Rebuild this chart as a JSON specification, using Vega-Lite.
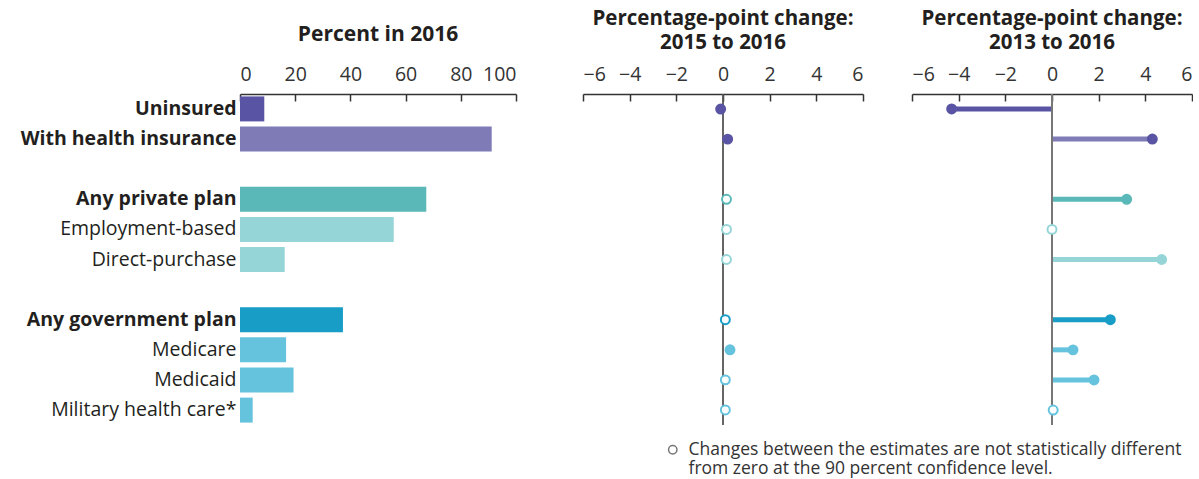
{
  "$schema": "https://vega.github.io/schema/vega-lite/v6.json",
  "padding": {"left": 5, "top": 8, "right": 0, "bottom": 0},
  "bounds": "flush",
  "spacing": 67,
  "config": {
    "font": "Open Sans",
    "view": {"stroke": null},
    "style": {"guide-label": {"lineHeight": 19}},
    "title": {"fontSize": 20.5, "fontWeight": "bold", "color": "#231f20", "anchor": "middle", "lineHeight": 24},
    "axisX": {"orient": "top", "title": null, "grid": false, "domainColor": "#333333", "domainWidth": 1.5, "tickColor": "#333333", "tickWidth": 1.5, "tickSize": -7, "labelPadding": 17, "labelFontSize": 19.5, "labelColor": "#333333"}
  },
  "datasets": {
    "cov": [
      {"cat": "Uninsured", "pct": 8.8, "c1": -0.1, "s1": true, "c3": -4.3, "s3": true},
      {"cat": "With health insurance", "pct": 91.2, "c1": 0.2, "s1": true, "c3": 4.3, "s3": true},
      {"cat": "Any private plan", "pct": 67.5, "c1": 0.15, "s1": false, "c3": 3.2, "s3": true},
      {"cat": "Employment-based", "pct": 55.7, "c1": 0.15, "s1": false, "c3": 0, "s3": false},
      {"cat": "Direct-purchase", "pct": 16.2, "c1": 0.15, "s1": false, "c3": 4.7, "s3": true},
      {"cat": "Any government plan", "pct": 37.3, "c1": 0.1, "s1": false, "c3": 2.5, "s3": true},
      {"cat": "Medicare", "pct": 16.7, "c1": 0.3, "s1": true, "c3": 0.9, "s3": true},
      {"cat": "Medicaid", "pct": 19.4, "c1": 0.1, "s1": false, "c3": 1.8, "s3": true},
      {"cat": "Military health care*", "pct": 4.6, "c1": 0.1, "s1": false, "c3": 0.05, "s3": false}
    ],
    "zero": [{"z": 0}],
    "note": [{"note": "Changes between the estimates are not statistically different|from zero at the 90 percent confidence level."}]
  },
  "hconcat": [
    {
      "width": 276,
      "height": 331,
      "title": {"text": "Percent in 2016", "offset": 19, "fontSize": 21},
      "data": {"name": "cov"},
      "mark": {"type": "bar"},
      "encoding": {
        "y": {
          "field": "cat", "type": "nominal", "sort": null,
          "scale": {"domain": ["Uninsured", "With health insurance", "gap1", "Any private plan", "Employment-based", "Direct-purchase", "gap2", "Any government plan", "Medicare", "Medicaid", "Military health care*"], "paddingInner": 0.17, "paddingOuter": 0.08},
          "axis": {
            "title": null, "domain": false, "ticks": false, "labelPadding": 4, "labelFontSize": 19.5, "labelColor": "#231f20", "labelLimit": 400,
            "minExtent": 235, "maxExtent": 235,
            "labelExpr": "indexof(datum.value, 'gap') == 0 ? '' : datum.value",
            "labelFontWeight": {"condition": {"test": "indexof(['Uninsured', 'With health insurance', 'Any private plan', 'Any government plan'], datum.value) >= 0", "value": "bold"}, "value": "normal"}
          }
        },
        "x": {"field": "pct", "type": "quantitative", "scale": {"domain": [0, 100]}, "axis": {"values": [0, 20, 40, 60, 80, 100]}},
        "color": {
          "field": "cat", "type": "nominal", "legend": null,
          "scale": {"domain": ["Uninsured", "With health insurance", "Any private plan", "Employment-based", "Direct-purchase", "Any government plan", "Medicare", "Medicaid", "Military health care*"], "range": ["#5a54a4", "#7f7bb7", "#5ab9b8", "#96d5d7", "#96d5d7", "#189dc6", "#66c3de", "#66c3de", "#66c3de"]}
        }
      }
    },
    {
      "hconcat": [
        {
          "width": 280,
          "height": 331,
          "title": {"text": ["Percentage-point change:", "2015 to 2016"], "offset": 11},
          "layer": [
            {
              "data": {"name": "zero"},
              "mark": {"type": "rule", "color": "#555555", "strokeWidth": 1.8},
              "encoding": {"x": {"field": "z", "type": "quantitative", "scale": {"domain": [-6, 6]}, "axis": {"values": [-6, -4, -2, 0, 2, 4, 6]}}}
            },
            {
              "data": {"name": "cov"},
              "mark": {"type": "circle", "size": 80, "strokeWidth": 2, "opacity": 1},
              "encoding": {
                "x": {"field": "c1", "type": "quantitative"},
                "y": {"field": "cat", "type": "nominal", "sort": null, "axis": null,
                  "scale": {"domain": ["Uninsured", "With health insurance", "gap1", "Any private plan", "Employment-based", "Direct-purchase", "gap2", "Any government plan", "Medicare", "Medicaid", "Military health care*"], "paddingInner": 0.17, "paddingOuter": 0.08}},
                "stroke": {"field": "cat", "type": "nominal", "legend": null,
                  "scale": {"domain": ["Uninsured", "With health insurance", "Any private plan", "Employment-based", "Direct-purchase", "Any government plan", "Medicare", "Medicaid", "Military health care*"], "range": ["#5a54a4", "#5a54a4", "#5ab9b8", "#96d5d7", "#96d5d7", "#189dc6", "#66c3de", "#66c3de", "#66c3de"]}},
                "fill": {
                  "condition": {"test": "datum.s1", "field": "cat", "type": "nominal", "legend": null,
                    "scale": {"domain": ["Uninsured", "With health insurance", "Any private plan", "Employment-based", "Direct-purchase", "Any government plan", "Medicare", "Medicaid", "Military health care*"], "range": ["#5a54a4", "#5a54a4", "#5ab9b8", "#96d5d7", "#96d5d7", "#189dc6", "#66c3de", "#66c3de", "#66c3de"]}},
                  "value": "white"
                }
              }
            }
          ]
        },
        {
          "width": 280,
          "height": 331,
          "title": {"text": ["Percentage-point change:", "2013 to 2016"], "offset": 11},
          "layer": [
            {
              "data": {"name": "cov"},
              "transform": [{"filter": "datum.s3"}],
              "mark": {"type": "rule", "strokeWidth": 5},
              "encoding": {
                "x": {"field": "c3", "type": "quantitative", "scale": {"domain": [-6, 6]}, "axis": {"values": [-6, -4, -2, 0, 2, 4, 6]}},
                "x2": {"datum": 0},
                "y": {"field": "cat", "type": "nominal", "sort": null, "axis": null,
                  "scale": {"domain": ["Uninsured", "With health insurance", "gap1", "Any private plan", "Employment-based", "Direct-purchase", "gap2", "Any government plan", "Medicare", "Medicaid", "Military health care*"], "paddingInner": 0.17, "paddingOuter": 0.08}},
                "color": {"field": "cat", "type": "nominal", "legend": null,
                  "scale": {"domain": ["Uninsured", "With health insurance", "Any private plan", "Employment-based", "Direct-purchase", "Any government plan", "Medicare", "Medicaid", "Military health care*"], "range": ["#5a54a4", "#7f7bb7", "#5ab9b8", "#96d5d7", "#96d5d7", "#189dc6", "#66c3de", "#66c3de", "#66c3de"]}}
              }
            },
            {
              "data": {"name": "zero"},
              "mark": {"type": "rule", "color": "#777777", "strokeWidth": 2},
              "encoding": {"x": {"field": "z", "type": "quantitative"}}
            },
            {
              "data": {"name": "cov"},
              "mark": {"type": "circle", "size": 80, "strokeWidth": 2, "opacity": 1},
              "encoding": {
                "x": {"field": "c3", "type": "quantitative"},
                "y": {"field": "cat", "type": "nominal", "sort": null},
                "stroke": {"field": "cat", "type": "nominal", "legend": null},
                "fill": {
                  "condition": {"test": "datum.s3", "field": "cat", "type": "nominal", "legend": null},
                  "value": "white"
                }
              }
            },
            {
              "data": {"name": "note"},
              "mark": {"type": "point", "opacity": 0},
              "encoding": {
                "shape": {"field": "note", "type": "nominal", "scale": {"range": ["circle"]},
                  "legend": {"orient": "none", "legendX": 424, "legendY": 347, "title": null, "padding": 0,
                    "labelExpr": "split(datum.label, '|')", "labelFontSize": 17.5, "labelColor": "#333333", "labelLimit": 700, "labelOffset": 7,
                    "symbolSize": 70, "symbolOpacity": 1, "symbolFillColor": "white", "symbolStrokeColor": "#777777", "symbolStrokeWidth": 1.5}}
              }
            }
          ]
        }
      ],
      "spacing": 49,
      "bounds": "flush"
    }
  ]
}
